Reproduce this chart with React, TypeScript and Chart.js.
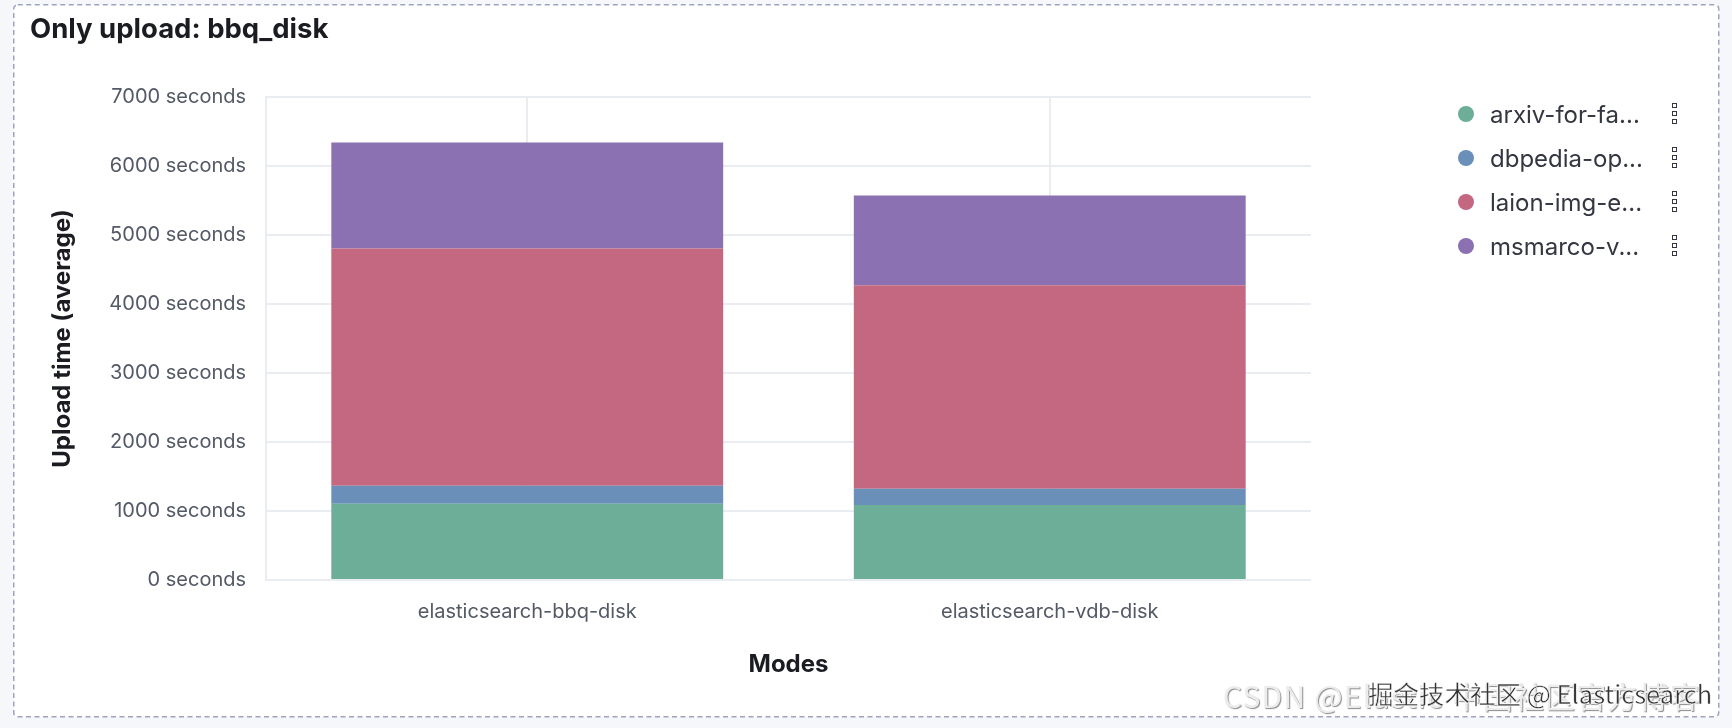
import { useEffect, useRef } from "react";
import { Chart, registerables } from "chart.js";

Chart.register(...registerables);

// values
const modes = ["elasticsearch-bbq-disk", "elasticsearch-vdb-disk"];
const seriesNames = ["arxiv-for-fa...", "dbpedia-op...", "laion-img-e...", "msmarco-v..."];
const arxiv = [1105, 1088];
const dbpedia = [260, 233];
const laion = [3440, 2949];
const msmarco = [1535, 1301];
const seriesColors = ["#6DAE98", "#6A90B9", "#C46882", "#8C71B2"];
const yMax = 7000;
const yStep = 1000;

const gridColor = "#e9ecf1";
const tickColor = "#535966";
const darkText = "#1a1c21";

const App = () => {
  const chartRef = useRef<HTMLCanvasElement | null>(null);
  const chartInstance = useRef<Chart | null>(null);

  useEffect(() => {
    if (!chartRef.current) return;
    if (chartInstance.current) chartInstance.current.destroy();
    const ctx = chartRef.current.getContext("2d");
    if (!ctx) return;

    const values = [arxiv, dbpedia, laion, msmarco];
    chartInstance.current = new Chart(ctx, {
      type: "bar",
      data: {
        labels: modes,
        datasets: seriesNames.map((name, i) => ({
          label: name,
          data: values[i],
          backgroundColor: seriesColors[i],
          borderWidth: 0,
          barPercentage: 0.75,
          categoryPercentage: 1,
        })),
      },
      options: {
        animation: false,
        responsive: false,
        maintainAspectRatio: false,
        layout: { padding: { left: 0, top: 97, right: 421, bottom: 0 } },
        plugins: {
          legend: { display: false },
          tooltip: { enabled: false },
        },
        scales: {
          x: {
            stacked: true,
            grid: { offset: false, color: gridColor, lineWidth: 2, drawTicks: false },
            border: { display: false },
            ticks: {
              color: tickColor,
              padding: 20,
              font: { family: "Inter", size: 20 },
            },
            title: {
              display: true,
              text: "Modes",
              color: darkText,
              font: { family: "Inter", size: 24, weight: "bold" },
              padding: { top: 0, bottom: 49 },
            },
            afterFit: (scale: any) => {
              scale.height = 148;
            },
          },
          y: {
            stacked: true,
            min: 0,
            max: yMax,
            grid: { color: gridColor, lineWidth: 2, drawTicks: false },
            border: { color: gridColor, width: 2 },
            ticks: {
              stepSize: yStep,
              color: tickColor,
              padding: 20,
              font: { family: "Inter", size: 20 },
              callback: (v: any) => `${v} seconds`,
            },
            title: {
              display: true,
              text: "Upload time (average)",
              color: darkText,
              font: { family: "Inter", size: 24, weight: "bold" },
              padding: { top: 48, bottom: 0 },
            },
            afterFit: (scale: any) => {
              scale.width = 266;
            },
          },
        },
      },
    });

    return () => {
      if (chartInstance.current) {
        chartInstance.current.destroy();
        chartInstance.current = null;
      }
    };
  }, []);

  return (
    <div
      style={{
        position: "fixed",
        left: 0,
        top: 0,
        width: 1732,
        height: 728,
        background: "#f6f7fb",
        fontFamily: "Inter, sans-serif",
        overflow: "hidden",
      }}
    >
      <svg width={1732} height={728} style={{ position: "absolute", left: 0, top: 0 }}>
        <rect
          x={13.75}
          y={4.75}
          width={1705}
          height={712}
          rx={4}
          fill="#ffffff"
          stroke="#9ea3c0"
          strokeWidth={1.5}
          strokeDasharray="5 3.5"
        />
      </svg>
      <canvas
        ref={chartRef}
        width={1732}
        height={728}
        style={{ position: "absolute", left: 0, top: 0, width: 1732, height: 728 }}
      ></canvas>
      <div
        style={{
          position: "absolute",
          left: 30,
          top: 12,
          fontSize: 27.5,
          fontWeight: 700,
          color: darkText,
          lineHeight: "32px",
          whiteSpace: "nowrap",
        }}
      >
        Only upload: bbq_disk
      </div>
      {seriesNames.map((name, i) => (
        <div
          key={name}
          style={{
            position: "absolute",
            left: 1458,
            top: 114 + i * 44 - 14,
            height: 28,
            display: "flex",
            alignItems: "center",
            whiteSpace: "nowrap",
          }}
        >
          <span
            style={{
              width: 16,
              height: 16,
              borderRadius: 8,
              background: seriesColors[i],
              display: "inline-block",
            }}
          />
          <span style={{ marginLeft: 16, fontSize: 24, color: "#343741", width: 190 }}>{name}</span>
          <span
            style={{
              position: "absolute",
              left: 214,
              top: 3,
              display: "flex",
              flexDirection: "column",
              gap: 3,
            }}
          >
            {[0, 1, 2].map((k) => (
              <span
                key={k}
                style={{
                  width: 5,
                  height: 5,
                  border: "1.5px solid #343741",
                  boxSizing: "border-box",
                  display: "block",
                }}
              />
            ))}
          </span>
        </div>
      ))}
      <div
        style={{
          position: "absolute",
          left: 1223,
          top: 675,
          fontSize: 30,
          letterSpacing: 1.2,
          color: "#ececec",
          fontFamily: "'Noto Sans CJK SC', sans-serif",
          whiteSpace: "nowrap",
          textShadow: "1px 1px 1px #8a8a8a",
          lineHeight: "40px",
        }}
      >
        CSDN @Elastic 中国社区官方博客
      </div>
      <div
        style={{
          position: "absolute",
          left: 1368,
          top: 676,
          fontSize: 25.5,
          color: "#333333",
          fontFamily: "'Noto Sans CJK SC', sans-serif",
          whiteSpace: "nowrap",
          WebkitTextStroke: "0.4px #ffffff",
          textShadow: "0 0 2px #fff, 0 0 2px #fff",
          lineHeight: "34px",
        }}
      >
        掘金技术社区 @ Elasticsearch
      </div>
    </div>
  );
};

export default App;
